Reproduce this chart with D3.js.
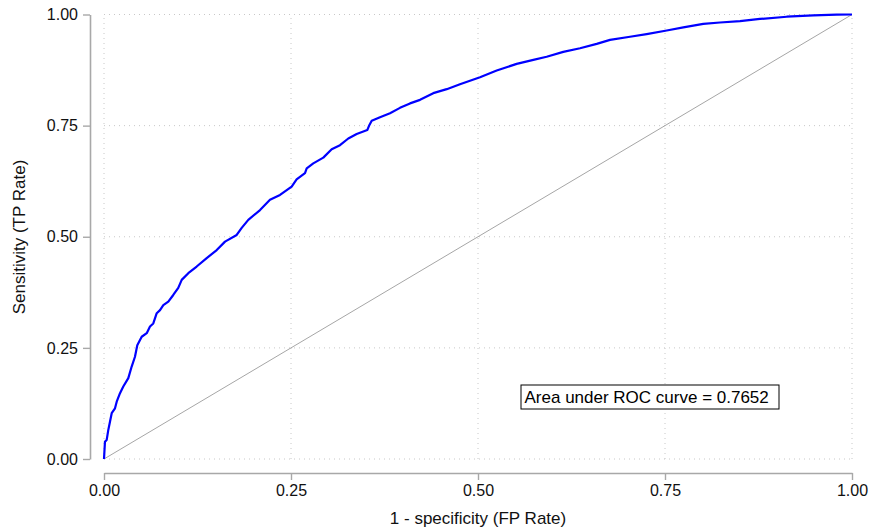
<!DOCTYPE html>
<html lang="en">
<head>
    <meta charset="UTF-8">
    <title>ROC curve</title>
    <script src="https://cdn.jsdelivr.net/npm/d3@7"></script>
    <style>
        body { margin: 0; background: #fff; }
        svg { font-family: "Liberation Sans", Arial, sans-serif; }
    </style>
</head>
<body>
    <div id="chart"></div>

    <script>
        // ROC points
        const fpRate = [0, 0.0013, 0.0036, 0.0057, 0.008, 0.0103, 0.0147, 0.017, 0.0214, 0.0258,
            0.0325, 0.037, 0.0414, 0.0445, 0.0504, 0.0571, 0.0615, 0.0659, 0.0705, 0.0749,
            0.0793, 0.086, 0.0926, 0.0993, 0.1039, 0.1127, 0.1239, 0.1373, 0.1507, 0.1618,
            0.1774, 0.1841, 0.1929, 0.2086, 0.2219, 0.2353, 0.2509, 0.2575, 0.2687, 0.271,
            0.2798, 0.2932, 0.3044, 0.3155, 0.3266, 0.3378, 0.352, 0.3547, 0.3579, 0.369,
            0.3824, 0.3957, 0.4091, 0.4225, 0.4402, 0.4582, 0.4759, 0.5027, 0.525, 0.5517,
            0.574, 0.5918, 0.614, 0.6364, 0.6587, 0.6765, 0.7032, 0.7255, 0.7523, 0.7745,
            0.8012, 0.8235, 0.8503, 0.877, 0.9127, 0.9483, 0.9795, 1];
        const tpRate = [0, 0.039, 0.043, 0.065, 0.084, 0.103, 0.114, 0.129, 0.148, 0.163,
            0.182, 0.208, 0.230, 0.256, 0.275, 0.283, 0.298, 0.305, 0.328, 0.335,
            0.346, 0.354, 0.369, 0.385, 0.403, 0.418, 0.433, 0.452, 0.470, 0.489,
            0.504, 0.520, 0.538, 0.560, 0.583, 0.594, 0.613, 0.629, 0.643, 0.654,
            0.665, 0.678, 0.697, 0.706, 0.721, 0.731, 0.740, 0.751, 0.761, 0.769,
            0.778, 0.790, 0.800, 0.808, 0.823, 0.832, 0.843, 0.859, 0.874, 0.889,
            0.898, 0.905, 0.916, 0.924, 0.934, 0.943, 0.950, 0.956, 0.964, 0.971,
            0.979, 0.982, 0.985, 0.990, 0.995, 0.998, 0.9995, 1];
        const tickValues = [0, 0.25, 0.5, 0.75, 1];
        const aucText = "Area under ROC curve = 0.7652";

        const width = 872;
        const height = 531;
        const tickFont = 16;
        const titleFont = 17;

        const x = d3.scaleLinear().domain([0, 1]).range([104, 852]);
        const y = d3.scaleLinear().domain([0, 1]).range([459, 14.5]);

        const svg = d3.select("#chart").append("svg")
            .attr("width", width)
            .attr("height", height);

        // dotted grid
        const grid = svg.append("g")
            .attr("stroke", "#c8c8c8")
            .attr("stroke-width", 1)
            .attr("stroke-dasharray", "1,4");
        grid.selectAll("line.h")
            .data(tickValues)
            .join("line")
            .attr("class", "h")
            .attr("x1", x(0)).attr("x2", x(1))
            .attr("y1", d => y(d)).attr("y2", d => y(d));
        grid.selectAll("line.v")
            .data(tickValues)
            .join("line")
            .attr("class", "v")
            .attr("y1", y(0)).attr("y2", y(1))
            .attr("x1", d => x(d)).attr("x2", d => x(d));

        // axes
        const fmt = d3.format(".2f");
        svg.append("g")
            .attr("transform", "translate(0,473)")
            .call(d3.axisBottom(x).tickValues(tickValues).tickFormat(fmt)
                .tickSize(7).tickSizeOuter(0).tickPadding(5))
            .call(g => g.select(".domain").attr("stroke", "#a8a8a8").attr("stroke-width", 1.6))
            .call(g => g.selectAll(".tick line").attr("stroke", "#a8a8a8").attr("stroke-width", 1.4))
            .call(g => g.selectAll(".tick text").attr("font-size", tickFont).attr("fill", "#111")
                .attr("font-family", "Liberation Sans, Arial, sans-serif"));

        svg.append("g")
            .attr("transform", "translate(90,0)")
            .call(d3.axisLeft(y).tickValues(tickValues).tickFormat(fmt)
                .tickSize(7).tickSizeOuter(0).tickPadding(5))
            .call(g => g.select(".domain").attr("stroke", "#a8a8a8").attr("stroke-width", 1.6))
            .call(g => g.selectAll(".tick line").attr("stroke", "#a8a8a8").attr("stroke-width", 1.4))
            .call(g => g.selectAll(".tick text").attr("font-size", tickFont).attr("fill", "#111")
                .attr("font-family", "Liberation Sans, Arial, sans-serif"));

        // reference diagonal
        svg.append("line")
            .attr("x1", x(0)).attr("y1", y(0))
            .attr("x2", x(1)).attr("y2", y(1))
            .attr("stroke", "#a6a6a6")
            .attr("stroke-width", 1);

        // ROC curve
        const pts = fpRate.map((d, i) => [d, tpRate[i]]);
        svg.append("path")
            .datum(pts)
            .attr("fill", "none")
            .attr("stroke", "#0000ff")
            .attr("stroke-width", 2.2)
            .attr("stroke-linejoin", "round")
            .attr("d", d3.line().x(d => x(d[0])).y(d => y(d[1])));

        // axis titles
        svg.append("text")
            .attr("x", 478)
            .attr("y", 524)
            .attr("text-anchor", "middle")
            .attr("font-size", titleFont)
            .attr("fill", "#111")
            .text("1 - specificity (FP Rate)");

        svg.append("text")
            .attr("transform", "translate(25,237) rotate(-90)")
            .attr("text-anchor", "middle")
            .attr("font-size", titleFont)
            .attr("fill", "#111")
            .text("Sensitivity (TP Rate)");

        // AUC box
        const box = svg.append("g").attr("transform", "translate(521,385)");
        box.append("rect")
            .attr("width", 258)
            .attr("height", 24)
            .attr("fill", "#fff")
            .attr("stroke", "#000")
            .attr("stroke-width", 1);
        box.append("text")
            .attr("x", 3.5)
            .attr("y", 18)
            .attr("font-size", titleFont)
            .attr("fill", "#000")
            .text(aucText);
    </script>
</body>
</html>
